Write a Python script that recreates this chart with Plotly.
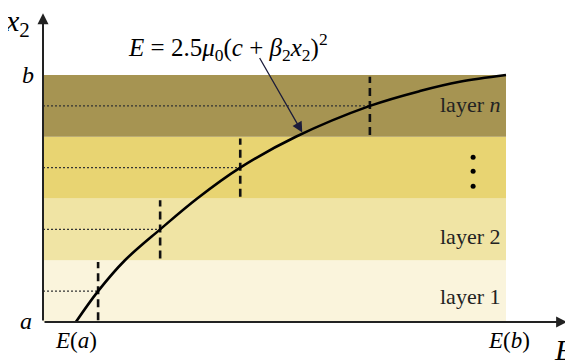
import plotly.graph_objects as go

# layers along x2 (a = 0, b = 4)
layer_bounds = [0, 1, 2, 3, 4]
layer_colors = ["#FAF4DC", "#F0E4A4", "#E8D472", "#A69452"]
layer_names = ["layer 1", "layer 2", "", "layer <i>n</i>"]
layer_label_x2 = [0.41, 1.39, None, 3.53]

# curve E(x2)
curve_E = [0.71, 1.19, 1.77, 2.53, 3.33, 4.26, 5.46, 7.06, 8.14, 9.0, 10.0]
curve_x2 = [0.0, 0.5, 1.0, 1.5, 2.0, 2.5, 3.0, 3.5, 3.74, 3.89, 4.0]

# mid-layer sample points (dashed / dotted guides)
mid_E = [1.19, 2.53, 4.26, 7.06]
mid_x2 = [0.5, 1.5, 2.5, 3.5]

E_a, E_b = 0.71, 10.0
dots_E = [9.29, 9.29, 9.29]
dots_x2 = [2.67, 2.44, 2.2]

serif = "Times New Roman, Liberation Serif, serif"

fig = go.Figure()
shapes = []
for i in range(4):
    shapes.append(dict(type="rect", xref="x", yref="y", x0=0, x1=E_b,
                       y0=layer_bounds[i], y1=layer_bounds[i + 1],
                       fillcolor=layer_colors[i], line=dict(width=0), layer="below"))

for e, y in zip(mid_E, mid_x2):
    # dotted line from the x2 axis to the curve
    fig.add_trace(go.Scatter(x=[0, e], y=[y, y], mode="lines",
                             line=dict(color="#333", width=1.3, dash="2px,2px"),
                             hoverinfo="skip"))
    # dashed vertical line through the layer
    fig.add_trace(go.Scatter(x=[e, e], y=[y - 0.47, y + 0.47], mode="lines",
                             line=dict(color="#111", width=2.6, dash="8px,5px"),
                             hoverinfo="skip"))

fig.add_trace(go.Scatter(x=curve_E, y=curve_x2, mode="lines",
                         line=dict(color="black", width=2.6, shape="spline", smoothing=1.0),
                         hoverinfo="skip"))
fig.add_trace(go.Scatter(x=dots_E, y=dots_x2, mode="markers",
                         marker=dict(color="black", size=5), hoverinfo="skip"))

ann = []
# axes with arrow heads
ann.append(dict(x=11.32, y=0, ax=0, ay=0, xref="x", yref="y", axref="x", ayref="y",
                showarrow=True, arrowhead=2, arrowsize=1.1, arrowwidth=2,
                arrowcolor="#222", text=""))
ann.append(dict(x=0, y=5.0, ax=0, ay=0, xref="x", yref="y", axref="x", ayref="y",
                showarrow=True, arrowhead=2, arrowsize=1.1, arrowwidth=2,
                arrowcolor="#222", text=""))
# formula pointer
ann.append(dict(x=5.6, y=3.07, ax=4.66, ay=4.3, xref="x", yref="y", axref="x", ayref="y",
                showarrow=True, arrowhead=2, arrowsize=1.6, arrowwidth=1.3,
                arrowcolor="#1c1c3a", text=""))

for name, y in zip(layer_names, layer_label_x2):
    if name:
        ann.append(dict(x=9.92, y=y, xref="x", yref="y", text=name, showarrow=False,
                        xanchor="right", font=dict(family=serif, size=22, color="#222")))

ann += [
    dict(x=3.99, y=4.45, text="<i>E</i> = 2.5<i>μ</i><sub>0</sub>(<i>c</i> + <i>β</i><sub>2</sub><i>x</i><sub>2</sub>)<sup>2</sup>",
         font=dict(family=serif, size=25, color="black")),
    dict(x=-0.55, y=4.84, text="<i>x</i><sub>2</sub>", font=dict(family=serif, size=30, color="black")),
    dict(x=-0.33, y=4.0, text="<i>b</i>", font=dict(family=serif, size=24, color="black")),
    dict(x=-0.37, y=0.02, text="<i>a</i>", font=dict(family=serif, size=24, color="black")),
    dict(x=E_a, y=-0.3, text="<i>E</i>(<i>a</i>)", font=dict(family=serif, size=23, color="black")),
    dict(x=E_b + 0.06, y=-0.3, text="<i>E</i>(<i>b</i>)", font=dict(family=serif, size=23, color="black")),
    dict(x=11.25, y=-0.45, text="<i>E</i>", font=dict(family=serif, size=30, color="black")),
]
for a in ann[6:]:
    a.update(xref="x", yref="y", showarrow=False)

# page body adds an 8px offset, so ranges are shifted to compensate
fig.update_layout(
    width=573, height=361,
    margin=dict(l=0, r=0, t=0, b=0),
    paper_bgcolor="white", plot_bgcolor="white",
    showlegend=False,
    shapes=shapes, annotations=ann,
    xaxis=dict(range=[-0.756, 11.62], visible=False, fixedrange=True),
    yaxis=dict(range=[-0.761, 5.085], visible=False, fixedrange=True),
)

fig.write_html("out.html")
